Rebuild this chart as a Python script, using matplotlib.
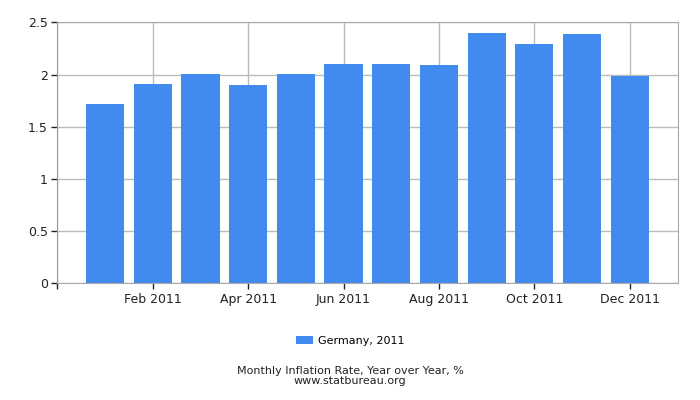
import matplotlib
matplotlib.use("Agg")
import matplotlib.pyplot as plt

months = ["Jan 2011", "Feb 2011", "Mar 2011", "Apr 2011", "May 2011", "Jun 2011",
          "Jul 2011", "Aug 2011", "Sep 2011", "Oct 2011", "Nov 2011", "Dec 2011"]
rates = [1.72, 1.91, 2.01, 1.90, 2.01, 2.10, 2.10, 2.09, 2.40, 2.29, 2.39, 1.99]
series_name = "Germany, 2011"
yticks = [0, 0.5, 1, 1.5, 2, 2.5]
ytick_labels = ["0", "0.5", "1", "1.5", "2", "2.5"]

fig = plt.figure(figsize=(7, 4), dpi=100)
ax = fig.add_axes([0.082, 0.292, 0.887, 0.652])

x = list(range(len(months)))
bars = ax.bar(x, rates, width=0.8, color="#418bee", label=series_name, zorder=2)

ax.set_xlim(-1.0, 12.02)
ax.set_ylim(0, 2.5)
ax.set_yticks(yticks)
ax.set_yticklabels(ytick_labels)
# tick at the left edge (Dec 2010) has no label
ax.set_xticks([-1] + x[1::2])
ax.set_xticklabels([""] + months[1::2])

ax.grid(True, color="#bbbbbb", linewidth=1, zorder=0)
for s in ax.spines.values():
    s.set_color("#aaaaaa")
ax.spines["left"].set_color("#999999")
ax.tick_params(axis="both", direction="out", length=4, width=1, color="#222222",
               labelsize=9, labelcolor="#222222", pad=3)

fig.legend(handles=[bars], labels=[series_name], loc="center", bbox_to_anchor=(0.5, 0.147),
           frameon=False, fontsize=8, handlelength=1.6, handleheight=0.7, handletextpad=0.4)

fig.text(0.5, 0.073, "Monthly Inflation Rate, Year over Year, %", ha="center", va="center",
         fontsize=8, color="#222222")
fig.text(0.5, 0.048, "www.statbureau.org", ha="center", va="center", fontsize=8, color="#222222")

fig.savefig("out.png", dpi=100)
